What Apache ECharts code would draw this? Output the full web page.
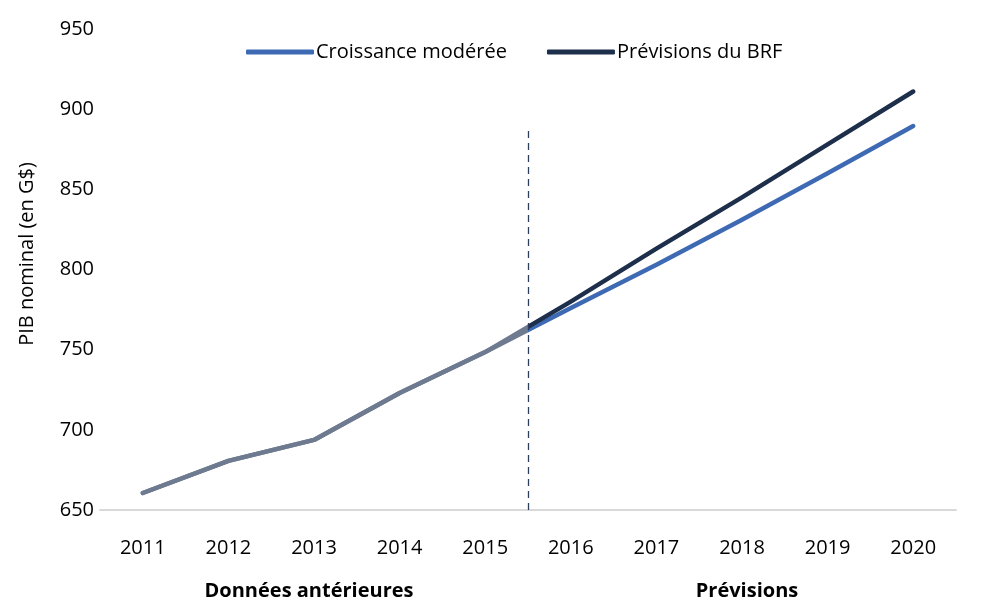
<!DOCTYPE html>
<html>
<head>
<meta charset="utf-8">
<script src="https://cdn.jsdelivr.net/npm/echarts@6/dist/echarts.min.js"></script>
<style>
  html, body { margin: 0; padding: 0; background: #fff; }
  #chart { width: 1005px; height: 612px; }
</style>
</head>
<body>
<div id="chart"></div>
<script>
const years = [2011, 2012, 2013, 2014, 2015, 2016, 2017, 2018, 2019, 2020]
// historical values shared by both lines, then each projection
const moderate = [660.6, 680.6, 693.7, 723, 748.5, 776, 803, 831, 860, 889.5]
const pboForecast = [660.6, 680.6, 693.7, 723, 748.5, 780, 813, 845, 878, 911]
const yTicks = { min: 650, max: 950, step: 50 }
const splitYear = 2015.5 // history / forecast boundary
const dashTop = 887

const FONT = '"Open Sans", "Noto Sans", sans-serif'
const GRAY = '#6d7a8f'
const BLUE = '#3d6ab3'
const NAVY = '#1d2f4b'

const toPairs = (vals) => years.map((y, i) => [y, vals[i]])
const xMin = years[0] - 0.5
const xMax = years[years.length - 1] + 0.5

// gray for the historical part, series colour after the split
const splitPieces = (color) => [
  { gte: xMin, lt: splitYear, color: GRAY },
  { gte: splitYear, lte: xMax, color: color }
]

const chart = echarts.init(document.getElementById('chart'))

chart.setOption({
  animation: false,
  textStyle: { fontFamily: FONT },
  grid: { left: 100, right: 49, top: 29, bottom: 102 },
  legend: {
    top: 37,
    left: 241,
    itemGap: 40,
    itemWidth: 68,
    itemHeight: 5,
    icon: 'roundRect',
    textStyle: { fontSize: 20, color: '#000', fontFamily: FONT, padding: [0, 0, 0, -3] },
    data: [
      { name: 'Croissance modérée', itemStyle: { color: BLUE } },
      { name: 'Prévisions du BRF', itemStyle: { color: NAVY } }
    ]
  },
  visualMap: [
    { show: false, seriesIndex: 0, dimension: 0, pieces: splitPieces(BLUE) },
    { show: false, seriesIndex: 1, dimension: 0, pieces: splitPieces(NAVY) }
  ],
  xAxis: {
    type: 'value',
    min: xMin,
    max: xMax,
    splitLine: { show: false },
    axisLine: { lineStyle: { color: '#d9d9d9', width: 2 } },
    axisTick: { show: false },
    axisLabel: {
      fontSize: 20, color: '#000', margin: 28, fontFamily: FONT,
      customValues: years,
      formatter: (v) => String(v)
    }
  },
  yAxis: {
    type: 'value',
    min: yTicks.min,
    max: yTicks.max,
    interval: yTicks.step,
    axisLine: { show: false },
    axisTick: { show: false },
    splitLine: { show: false },
    axisLabel: { fontSize: 20, color: '#000', margin: 6, fontFamily: FONT }
  },
  graphic: [
    {
      type: 'text', x: 27, y: 254, rotation: Math.PI / 2,
      style: {
        text: 'PIB nominal (en G$)', fontSize: 20, fill: '#000', fontFamily: FONT,
        align: 'center', verticalAlign: 'middle'
      }
    },
    {
      type: 'text', x: 309, y: 591,
      style: {
        text: 'Données antérieures', fontSize: 20, fontWeight: 'bold', fill: '#000', fontFamily: FONT,
        align: 'center', verticalAlign: 'middle'
      }
    },
    {
      type: 'text', x: 747, y: 591,
      style: {
        text: 'Prévisions', fontSize: 20, fontWeight: 'bold', fill: '#000', fontFamily: FONT,
        align: 'center', verticalAlign: 'middle'
      }
    }
  ],
  series: [
    {
      name: 'Croissance modérée',
      type: 'line',
      data: toPairs(moderate),
      symbol: 'none',
      lineStyle: { width: 4.5, cap: 'round', join: 'round' },
      markLine: {
        silent: true,
        symbol: 'none',
        label: { show: false },
        lineStyle: { color: '#2c3e5c', type: [7, 5], width: 1.3 },
        data: [[{ coord: [splitYear, yTicks.min] }, { coord: [splitYear, dashTop] }]]
      }
    },
    {
      name: 'Prévisions du BRF',
      type: 'line',
      data: toPairs(pboForecast),
      symbol: 'none',
      lineStyle: { width: 4.5, cap: 'round', join: 'round' }
    }
  ]
})
</script>
</body>
</html>
